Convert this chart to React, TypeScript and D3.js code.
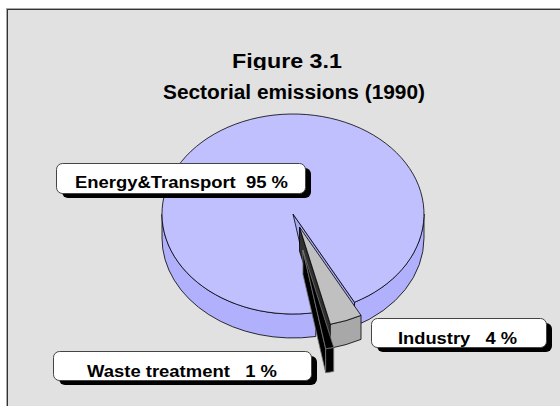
import React from 'react';
import * as d3 from 'd3';

// ---- data ----
const categories = ["Energy&Transport", "Industry", "Waste treatment"];
const values = [95, 4, 1];
const separators = ["  ", "   ", "   "];
const titleText = "Figure 3.1";
const subtitleText = "Sectorial emissions (1990)";

// ---- layout / style ----
const W = 560, H = 406;
const cx = 293, cy = 214, rx = 131, ry = 100, depth = 24;
const explode = [0, 0.14, 0.37];
const topColors = ["#c0c0ff", "#c0c0c0", "#000000"];
const sideColors = ["#b0b0fc", "#a8a8a8", "#000000"];
const cutColors = ["#a8a8f4", "#303030", "#000000"];
const strokeColors = ["#000", "#000", "#777"];
const FONT = "'Liberation Sans', Arial, Helvetica, sans-serif";

const labelBoxes = [
  { x: 56, y: 163, w: 249, h: 30, tx: 75, tw: 213, ty: 188 },
  { x: 371, y: 318, w: 175, h: 29, tx: 398, tw: 119, ty: 344 },
  { x: 53, y: 351, w: 258, h: 29, tx: 87, tw: 190, ty: 377 },
];

type Pt = [number, number];

export default function App() {
  const pie = d3.pie<number>().sort(null)
    .startAngle((170 * Math.PI) / 180)
    .endAngle((170 * Math.PI) / 180 + 2 * Math.PI);
  const arcs = pie(values);

  const fmt = (p: Pt) => `${p[0].toFixed(2)},${p[1].toFixed(2)}`;

  const slices = arcs.map((d, i) => {
    const t1 = d.startAngle - Math.PI / 2;
    const t2 = d.endAngle - Math.PI / 2;
    const tm = (t1 + t2) / 2;
    const ox = rx * Math.cos(tm) * explode[i];
    const oy = ry * Math.sin(tm) * explode[i];
    const c: Pt = [cx + ox, cy + oy];
    const P = (t: number, dz = 0): Pt => [c[0] + rx * Math.cos(t), c[1] + ry * Math.sin(t) + dz];
    const cD: Pt = [c[0], c[1] + depth];
    const faces: { d: string; fill: string }[] = [];
    // cut faces
    if (Math.cos(t1) < 0) {
      faces.push({ d: `M${fmt(c)}L${fmt(P(t1))}L${fmt(P(t1, depth))}L${fmt(cD)}Z`, fill: cutColors[i] });
    }
    if (Math.cos(t2) > 0) {
      faces.push({ d: `M${fmt(c)}L${fmt(P(t2))}L${fmt(P(t2, depth))}L${fmt(cD)}Z`, fill: cutColors[i] });
    }
    // outer walls (front half only)
    for (let n = -1; n <= 2; n++) {
      const lo = Math.max(t1, 2 * Math.PI * n);
      const hi = Math.min(t2, 2 * Math.PI * n + Math.PI);
      if (hi > lo) {
        faces.push({
          d: `M${fmt(P(lo))}A${rx},${ry} 0 0 1 ${fmt(P(hi))}L${fmt(P(hi, depth))}A${rx},${ry} 0 0 0 ${fmt(P(lo, depth))}Z`,
          fill: sideColors[i],
        });
      }
    }
    const large = t2 - t1 > Math.PI ? 1 : 0;
    faces.push({
      d: `M${fmt(c)}L${fmt(P(t1))}A${rx},${ry} 0 ${large} 1 ${fmt(P(t2))}Z`,
      fill: topColors[i],
    });
    return { faces, i };
  });

  return (
    <svg width={W} height={H} viewBox={`0 0 ${W} ${H}`}
      style={{ position: 'absolute', left: 0, top: 0, background: '#fff' }}>
      <defs>
        <clipPath id="titleClip">
          <rect x={0} y={0} width={W} height={70} />
        </clipPath>
      </defs>
      <rect x={0} y={0} width={W} height={H} fill="#ffffff" />
      <rect x={8} y={10} width={W} height={H} fill="#e1e1e1" />
      <line x1={6.5} y1={8} x2={6.5} y2={H} stroke="#a8a8a8" strokeWidth={1} />
      <line x1={6} y1={8.5} x2={W} y2={8.5} stroke="#a8a8a8" strokeWidth={1} />
      <line x1={7.5} y1={9} x2={7.5} y2={H} stroke="#333" strokeWidth={1} />
      <line x1={7} y1={9.5} x2={W} y2={9.5} stroke="#333" strokeWidth={1} />

      <g clipPath="url(#titleClip)">
        <text x={232} y={68} fontFamily={FONT} fontWeight="bold" fontSize={21}
          textLength={110} lengthAdjust="spacingAndGlyphs" fill="#000">{titleText}</text>
      </g>
      <text x={163} y={99} fontFamily={FONT} fontWeight="bold" fontSize={19.5}
        textLength={262} lengthAdjust="spacingAndGlyphs" fill="#000">{subtitleText}</text>

      {slices.map(s => (
        <g key={s.i}>
          {s.faces.map((f, j) => (
            <path key={j} d={f.d} fill={f.fill} stroke={strokeColors[s.i]} strokeWidth={0.8} strokeLinejoin="round" />
          ))}
        </g>
      ))}

      {labelBoxes.map((b, i) => (
        <g key={i}>
          <rect x={b.x + 6} y={b.y + 5} width={b.w} height={b.h} rx={6} fill="#000" />
          <rect x={b.x + 0.5} y={b.y + 0.5} width={b.w} height={b.h} rx={6} fill="#fff" stroke="#444" strokeWidth={1} />
          <text x={b.tx} y={b.ty} fontFamily={FONT} fontWeight="bold" fontSize={16.5}
            textLength={b.tw} lengthAdjust="spacingAndGlyphs" fill="#000"
            style={{ whiteSpace: 'pre' }}>{`${categories[i]}${separators[i]}${values[i]} %`}</text>
        </g>
      ))}
    </svg>
  );
}
